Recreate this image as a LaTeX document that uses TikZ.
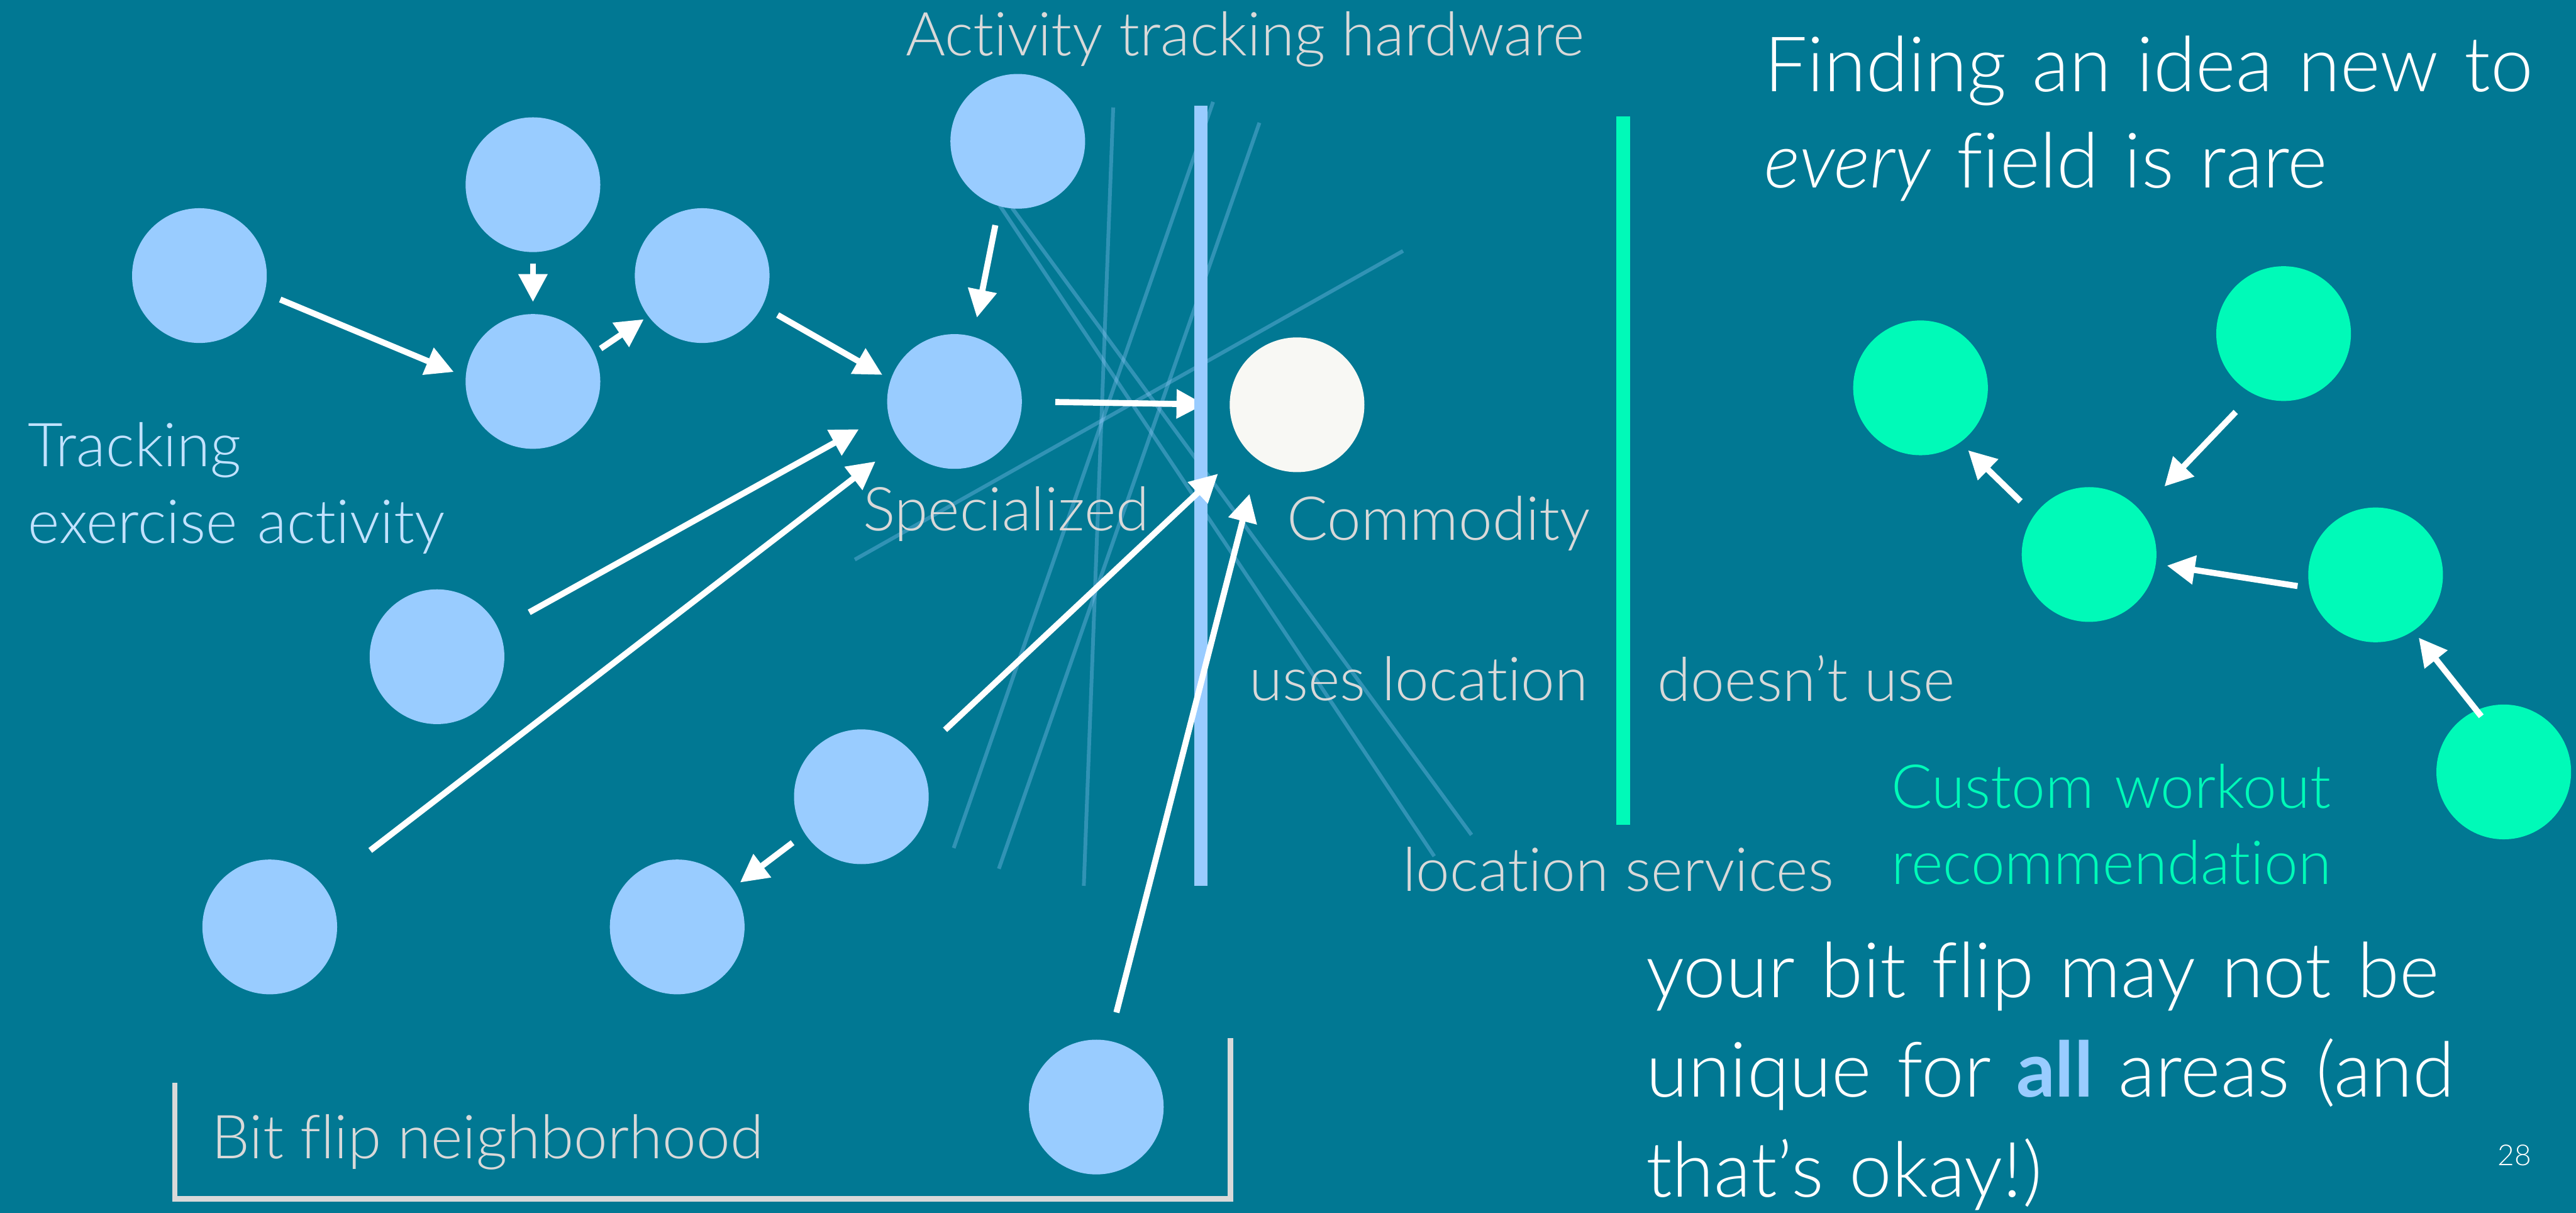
\documentclass[tikz,border=0pt]{standalone}
\usepackage{fontspec}
\setmainfont{Lato}[UprightFont={* Light},ItalicFont={* Light Italic},BoldFont={* Bold},
  Ligatures=NoCommon]
\usetikzlibrary{arrows.meta}
\definecolor{flipTeal}{HTML}{017893}
\definecolor{flipBlue}{HTML}{99CCFF}
\definecolor{flipPale}{HTML}{C2E2FF}
\definecolor{flipIvory}{HTML}{F8F8F4}
\definecolor{flipMint}{HTML}{00FAB8}
\definecolor{flipGray}{HTML}{D9D9D9}

\begin{document}
\begin{tikzpicture}[
  bnode/.style={circle,fill=flipBlue,minimum size=1.64cm,inner sep=0pt},
  cnode/.style={circle,fill=flipIvory,minimum size=1.64cm,inner sep=0pt},
  gnode/.style={circle,fill=flipMint,minimum size=1.64cm,inner sep=0pt},
  arr/.style={-{Triangle[length=0.34cm,width=0.34cm]},white,line width=2.1pt},
  hplane/.style={flipBlue,opacity=0.32,line width=1.3pt},
  lbl/.style={inner sep=0pt,text=flipGray,font=\fontsize{21}{26.5}\selectfont},
  big/.style={inner sep=0pt,text=white,font=\fontsize{26.5}{33.4}\selectfont}]

%% slide background
\fill[flipTeal] (0,0) rectangle (31.36,14.76);
\useasboundingbox (0,0) rectangle (31.36,14.76);

%% faint candidate hyperplanes
\draw[hplane] (13.552,13.452) -- (13.194,3.980);
\draw[hplane] (14.768,13.520) -- (11.610,4.440);
\draw[hplane] (15.332,13.266) -- (12.160,4.188);
\draw[hplane] (17.080,11.706) -- (10.406,7.950);
\draw[hplane] (12.170,12.260) -- (17.460,4.340);
\draw[hplane] (12.320,12.230) -- (17.914,4.600);

%% idea graph (left)
\node[bnode] (n1)  at (2.428,11.406) {};
\node[bnode] (n2)  at (6.488,12.512) {};
\node[bnode] (n3)  at (6.488,10.118) {};
\node[bnode] (n4)  at (8.548,11.406) {};
\node[bnode] (n5)  at (11.62,9.874) {};
\node[bnode] (n6)  at (12.39,13.04) {};
\node[cnode] (n7)  at (15.79,9.834) {};
\node[bnode] (n8)  at (5.32,6.768) {};
\node[bnode] (n9)  at (3.284,3.48) {};
\node[bnode] (n10) at (10.486,5.064) {};
\node[bnode] (n11) at (8.244,3.48) {};
\node[bnode] (n12) at (13.346,1.288) {};

\draw[arr,shorten <=0.40cm,shorten >=0.30cm] (n5.east) -- (n7.west);

%% dividers
\draw[flipBlue,line width=0.164cm] (14.62,3.98) -- (14.62,13.47);
\draw[flipMint,line width=0.17cm] (19.76,4.72) -- (19.76,13.34);

\draw[arr,shorten <=0.20cm,shorten >=0.15cm] (n1.-15) -- (n3.176);
\draw[arr,shorten <=0.13cm,shorten >=0.14cm] (n2.south) -- (n3.north);
\draw[arr,shorten <=0.09cm,shorten >=0.06cm] (n3.25) -- (n4.217);
\draw[arr,shorten <=0.21cm,shorten >=0.11cm] (n4.-27) -- (n5.161);
\draw[arr,shorten <=0.23cm,shorten >=0.23cm] (n6.254) -- (n5.74);
\draw[arr,shorten <=0.42cm,shorten >=0.40cm] (n8.24) -- (n5.190);
\draw[arr,shorten <=0.71cm,shorten >=0.38cm] (n9.37) -- (n5.217);
\draw[arr,shorten <=0.48cm,shorten >=0.45cm] (n10.36) -- (n7.220);
\draw[arr,shorten <=0.35cm,shorten >=0.42cm] (n12.79) -- (n7.235);
\draw[arr,shorten <=0.18cm,shorten >=0.11cm] (n10.213) -- (n11.35);

%% idea graph (right)
\node[gnode] (g1) at (23.38,10.04) {};
\node[gnode] (g2) at (27.80,10.70) {};
\node[gnode] (g3) at (25.432,8.012) {};
\node[gnode] (g4) at (28.92,7.764) {};
\node[gnode] (g5) at (30.48,5.366) {};

\draw[arr,shorten <=0.23cm,shorten >=0.13cm] (g3.144) -- (g1.-54);
\draw[arr,shorten <=0.30cm,shorten >=0.41cm] (g2.243) -- (g3.40);
\draw[arr,shorten <=0.14cm,shorten >=0.13cm] (g4.191) -- (g3.-8);
\draw[arr,shorten <=-0.10cm,shorten >=0.10cm] (g5.114) -- (g4.-56);

%% bit flip bracket
\draw[flipGray,line width=0.066cm] (2.128,1.58) |- (14.98,0.17) -- (14.98,2.128);

%% labels
\node[lbl,anchor=base] (hwlbl) at (15.155,14.08) {Activity tracking hardware};
\node[lbl,anchor=base west,text=flipPale,text width=8cm,align=left] (tracklbl)
  at (0.334,9.08) {Tracking\\exercise activity};
\node[lbl,anchor=base] (speclbl) at (12.248,8.30) {Specialized};
\node[lbl,anchor=base] (commlbl) at (17.515,8.184) {Commodity};
\node[lbl,anchor=base] (useslbl) at (17.27,6.234) {uses location};
\node[lbl,anchor=base] (notlbl)  at (21.99,6.224) {doesn’t use};
\node[lbl,anchor=base] (servlbl) at (19.70,3.914) {location services};
\node[lbl,anchor=base west,text=flipMint,text width=8cm,align=left] (customlbl)
  at (23.02,4.928) {Custom workout\\recommendation};
\node[lbl,anchor=base] (nbhdlbl) at (5.937,0.664) {Bit flip neighborhood};

\node[big,anchor=base west,text width=10cm,align=left] (rarelbl)
  at (21.47,13.648) {Finding an idea new to\\\textit{every} field is rare};
\node[big,anchor=base west,text width=11cm,align=left,
      font=\fontsize{26.5}{34.6}\selectfont] (flipnote)
  at (20.03,2.624) {your bit flip may not be\\unique for \textbf{\textcolor{flipBlue}{all}} areas (and\\that’s okay!)};
\node[inner sep=0pt,text=white,font=\fontsize{10}{12}\selectfont,anchor=base] (pgnum)
  at (30.61,0.58) {28};
\end{tikzpicture}
\end{document}
